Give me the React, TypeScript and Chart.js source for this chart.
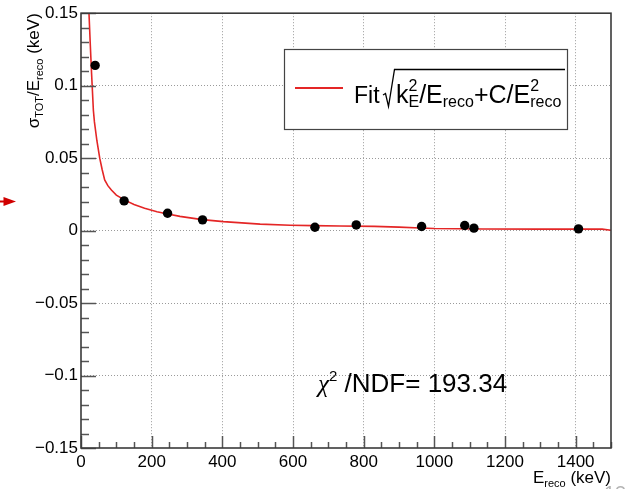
import React, { useEffect, useRef } from "react";
import { Chart, registerables } from "chart.js";

Chart.register(...registerables);

// ---- data ----
const energies = [40, 122, 245, 344, 662, 779, 964, 1086, 1112, 1408];
const resolution = [0.114, 0.0205, 0.012, 0.0074, 0.0023, 0.0039, 0.0028, 0.0035, 0.0017, 0.0012];
const resolutionErr = [0.0008, 0.0025, 0.0008, 0.0008, 0.0006, 0.0006, 0.0006, 0.0006, 0.0006, 0.0006];

const fitEnergies = [22.6, 26, 30, 35, 38, 45, 53, 60, 67, 76, 86, 100, 124, 150, 180, 215, 246, 280, 343, 403, 507, 592, 657, 733, 830, 900, 960, 1000, 1138, 1300, 1475, 1500];
const fitValues = [0.15, 0.13, 0.108, 0.083, 0.075, 0.062, 0.05, 0.042, 0.035, 0.031, 0.028, 0.0245, 0.021, 0.018, 0.0154, 0.013, 0.0115, 0.0098, 0.0076, 0.0062, 0.0045, 0.0037, 0.0034, 0.0032, 0.0029, 0.0024, 0.0018, 0.0014, 0.0011, 0.001, 0.001, 0.0002];

const xTickValues = [0, 200, 400, 600, 800, 1000, 1200, 1400];
const xTickLabels = ["0", "200", "400", "600", "800", "1000", "1200", "1400"];
const yTickValues = [-0.15, -0.1, -0.05, 0, 0.05, 0.1, 0.15];
const yTickLabels = ["\u22120.15", "\u22120.1", "\u22120.05", "0", "0.05", "0.1", "0.15"];

const X_MIN = 0;
const X_MAX = 1500;
const Y_MIN = -0.15;
const Y_MAX = 0.15;
const X_MINOR = 50;
const X_MAJOR = 200;
const Y_MINOR = 0.01;
const Y_MAJOR = 0.05;

const chi2Label = "193.34";
const pageNumber = "13";

const SANS = '"Liberation Sans", Arial, Helvetica, sans-serif';
const FIT_COLOR = "rgb(228, 38, 38)";

type Seg = {
  t?: string;
  size: number;
  dy?: number;
  font?: string;
  stack?: { up: string; down: string; upDy: number; downDy: number };
};

function fontOf(s: Seg) {
  return s.font ? s.font.replace("{size}", String(s.size)) : `${s.size}px ${SANS}`;
}

function measureRich(ctx: CanvasRenderingContext2D, segs: Seg[]) {
  let w = 0;
  for (const s of segs) {
    ctx.font = fontOf(s);
    if (s.stack) {
      w += Math.max(ctx.measureText(s.stack.up).width, ctx.measureText(s.stack.down).width);
    } else {
      w += ctx.measureText(s.t || "").width;
    }
  }
  return w;
}

function drawRich(ctx: CanvasRenderingContext2D, x: number, y: number, segs: Seg[]) {
  ctx.textAlign = "left";
  ctx.textBaseline = "alphabetic";
  for (const s of segs) {
    ctx.font = fontOf(s);
    if (s.stack) {
      ctx.fillText(s.stack.up, x, y + s.stack.upDy);
      ctx.fillText(s.stack.down, x, y + s.stack.downDy);
      x += Math.max(ctx.measureText(s.stack.up).width, ctx.measureText(s.stack.down).width);
    } else {
      ctx.fillText(s.t || "", x, y + (s.dy || 0));
      x += ctx.measureText(s.t || "").width;
    }
  }
  return x;
}

const decorPlugin = {
  id: "rootDecor",
  afterDatasetsDraw(chart: any) {
    const ctx: CanvasRenderingContext2D = chart.ctx;
    const xs = chart.scales.x;
    const ys = chart.scales.y;
    const { left, right, top, bottom } = chart.chartArea;

    // error bars
    ctx.save();
    ctx.strokeStyle = "#000";
    ctx.lineWidth = 1.5;
    energies.forEach((e, i) => {
      const px = xs.getPixelForValue(e);
      const y1 = ys.getPixelForValue(resolution[i] - resolutionErr[i]);
      const y2 = ys.getPixelForValue(resolution[i] + resolutionErr[i]);
      ctx.beginPath();
      ctx.moveTo(px, y1);
      ctx.lineTo(px, y2);
      ctx.stroke();
    });
    ctx.restore();

    // ticks (inside the frame, ROOT style)
    ctx.save();
    ctx.strokeStyle = "#555";
    ctx.lineWidth = 1.5;
    const nx = Math.round((X_MAX - X_MIN) / X_MINOR);
    for (let i = 0; i <= nx; i++) {
      const v = X_MIN + i * X_MINOR;
      const px = Math.round(xs.getPixelForValue(v)) + 0.5;
      const major = Math.abs(v / X_MAJOR - Math.round(v / X_MAJOR)) < 1e-6;
      const len = major ? 12 : 6;
      ctx.beginPath();
      ctx.moveTo(px, bottom);
      ctx.lineTo(px, bottom - len);
      ctx.stroke();
    }
    const ny = Math.round((Y_MAX - Y_MIN) / Y_MINOR);
    for (let i = 0; i <= ny; i++) {
      const v = Y_MIN + i * Y_MINOR;
      const py = Math.round(ys.getPixelForValue(v)) + 0.5;
      const major = Math.abs(v / Y_MAJOR - Math.round(v / Y_MAJOR)) < 1e-6;
      const len = major ? 15 : 8;
      ctx.beginPath();
      ctx.moveTo(left, py);
      ctx.lineTo(left + len, py);
      ctx.stroke();
    }
    ctx.restore();

    // frame
    ctx.save();
    ctx.strokeStyle = "#3a3a3a";
    ctx.lineWidth = 1.6;
    ctx.strokeRect(left, top, right - left, bottom - top);
    ctx.restore();
  },
  afterDraw(chart: any) {
    const ctx: CanvasRenderingContext2D = chart.ctx;
    const { right, top, bottom } = chart.chartArea;
    ctx.save();
    ctx.fillStyle = "#000";

    // y axis title (rotated, aligned to the top of the axis)
    const ySegs: Seg[] = [
      { t: "\u03c3", size: 17 },
      { t: "TOT", size: 11, dy: 4 },
      { t: "/E", size: 17 },
      { t: "reco", size: 11, dy: 4 },
      { t: " (keV)", size: 17 },
    ];
    const yw = measureRich(ctx, ySegs);
    ctx.save();
    ctx.translate(38.5, top + yw);
    ctx.rotate(-Math.PI / 2);
    drawRich(ctx, 0, 0, ySegs);
    ctx.restore();

    // x axis title (right aligned)
    const xSegs: Seg[] = [
      { t: "E", size: 17 },
      { t: "reco", size: 11, dy: 4 },
      { t: " (keV)", size: 17 },
    ];
    const xw = measureRich(ctx, xSegs);
    drawRich(ctx, right - xw, bottom + 35, xSegs);

    // legend box
    const bx = 284.5, by = 49.5, bw = 283, bh = 80;
    ctx.fillStyle = "#fff";
    ctx.fillRect(bx, by, bw, bh);
    ctx.strokeStyle = "#444";
    ctx.lineWidth = 1.2;
    ctx.strokeRect(bx, by, bw, bh);
    ctx.strokeStyle = FIT_COLOR;
    ctx.lineWidth = 2;
    ctx.beginPath();
    ctx.moveTo(295, 88);
    ctx.lineTo(343, 88);
    ctx.stroke();
    ctx.fillStyle = "#000";
    drawRich(ctx, 354, 103, [{ t: "Fit", size: 23 }]);
    // radical sign
    ctx.strokeStyle = "#000";
    ctx.lineWidth = 1.3;
    ctx.beginPath();
    ctx.moveTo(383, 95);
    ctx.lineTo(385.5, 93.5);
    ctx.lineTo(388.5, 106.5);
    ctx.lineTo(394.5, 69.5);
    ctx.lineTo(565, 69.5);
    ctx.stroke();
    drawRich(ctx, 396, 103, [
      { t: "k", size: 25 },
      { size: 16, stack: { up: "2", down: "E", upDy: -12, downDy: 4 } },
      { t: "/E", size: 25 },
      { t: "reco", size: 16, dy: 4 },
      { t: "+C/E", size: 25 },
      { size: 16, stack: { up: "2", down: "reco", upDy: -12, downDy: 4 } },
    ]);

    // chi2 / NDF text
    drawRich(ctx, 318, 392, [
      { t: "\u03c7", size: 25, font: 'italic {size}px "Liberation Serif", "DejaVu Serif", serif' },
      { t: "2", size: 15, dy: -11 },
      { t: " /NDF= " + chi2Label, size: 26 },
    ]);

    // red arrow at the left edge
    ctx.fillStyle = "#d00000";
    ctx.strokeStyle = "#d00000";
    ctx.lineWidth = 2;
    ctx.beginPath();
    ctx.moveTo(0, 201.5);
    ctx.lineTo(6, 201.5);
    ctx.stroke();
    ctx.beginPath();
    ctx.moveTo(3.5, 197);
    ctx.lineTo(16, 201.5);
    ctx.lineTo(3.5, 206);
    ctx.closePath();
    ctx.fill();

    // partially visible page number at the bottom right
    ctx.fillStyle = "#b5b5b5";
    ctx.font = `20px ${SANS}`;
    ctx.fillText(pageNumber, 604, 500);

    ctx.restore();
  },
};

export default function App() {
  const canvasRef = useRef<HTMLCanvasElement | null>(null);

  useEffect(() => {
    const canvas = canvasRef.current;
    if (!canvas) return;
    const points = energies.map((e, i) => ({ x: e, y: resolution[i] }));
    const fit = fitEnergies.map((e, i) => ({ x: e, y: fitValues[i] }));

    const chart = new Chart(canvas, {
      type: "scatter",
      data: {
        datasets: [
          {
            type: "scatter",
            label: "data",
            data: points,
            backgroundColor: "#000",
            borderColor: "#000",
            borderWidth: 0,
            pointRadius: 4.7,
            pointHoverRadius: 4.7,
          },
          {
            type: "line",
            label: "fit",
            data: fit,
            borderColor: FIT_COLOR,
            borderWidth: 1.6,
            pointRadius: 0,
            tension: 0,
            fill: false,
          } as any,
        ],
      },
      options: {
        animation: false,
        responsive: true,
        maintainAspectRatio: false,
        events: [],
        layout: { padding: { left: 0, top: 13, right: 16, bottom: 0 } },
        plugins: {
          legend: { display: false },
          tooltip: { enabled: false },
          title: { display: false },
        },
        scales: {
          x: {
            type: "linear",
            min: X_MIN,
            max: X_MAX,
            afterBuildTicks: (s: any) => {
              s.ticks = xTickValues.map((v) => ({ value: v }));
            },
            afterFit: (s: any) => {
              s.height = 41;
            },
            ticks: {
              callback: (_v: any, i: number) => xTickLabels[i],
              font: { family: SANS, size: 17 },
              color: "#000",
              padding: 4,
              maxRotation: 0,
              autoSkip: false,
            },
            grid: {
              color: (c: any) => (c.tick && (c.tick.value === X_MIN || c.tick.value === X_MAX) ? "rgba(0,0,0,0)" : "#9a9a9a"),
              lineWidth: 1,
              drawTicks: false,
            },
            border: { display: false, dash: [1, 2] },
          },
          y: {
            type: "linear",
            min: Y_MIN,
            max: Y_MAX,
            afterBuildTicks: (s: any) => {
              s.ticks = yTickValues.map((v) => ({ value: v }));
            },
            afterFit: (s: any) => {
              s.width = 81;
            },
            ticks: {
              callback: (_v: any, i: number) => yTickLabels[i],
              font: { family: SANS, size: 17 },
              color: "#000",
              padding: 3,
              autoSkip: false,
            },
            grid: {
              color: (c: any) => (c.tick && (c.tick.value === Y_MIN || c.tick.value === Y_MAX) ? "rgba(0,0,0,0)" : "#9a9a9a"),
              lineWidth: 1,
              drawTicks: false,
            },
            border: { display: false, dash: [1, 2] },
          },
        },
      },
      plugins: [decorPlugin],
    });

    return () => {
      chart.destroy();
    };
  }, []);

  return (
    <div style={{ position: "fixed", left: 0, top: 0, width: 627, height: 489, background: "#fff" }}>
      <canvas ref={canvasRef} />
    </div>
  );
}
